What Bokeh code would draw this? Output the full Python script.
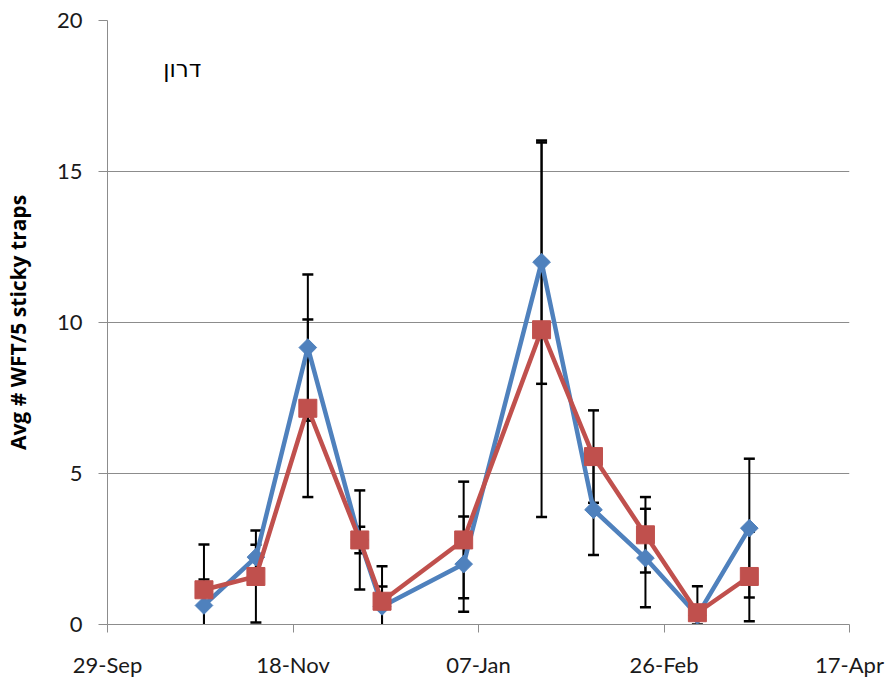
from datetime import datetime
import numpy as np
from bokeh.plotting import figure
from bokeh.models import (Range1d, FixedTicker, DatetimeTickFormatter, Label,
                          ColumnDataSource)
from bokeh.embed import file_html
from bokeh.resources import INLINE

# ---- data ----
dates = ["2012-10-25", "2012-11-08", "2012-11-22", "2012-12-06", "2012-12-12",
         "2013-01-03", "2013-01-24", "2013-02-07", "2013-02-21", "2013-03-07",
         "2013-03-21"]
blue_vals = [0.63, 2.23, 9.17, 2.8, 0.6, 2.0, 12.0, 3.8, 2.2, 0.3, 3.19]
blue_err = [0.86, 0.41, 2.42, 0.44, 0.66, 1.58, 4.03, 1.5, 1.63, 0.3, 2.3]
red_vals = [1.15, 1.59, 7.16, 2.8, 0.77, 2.8, 9.76, 5.56, 2.97, 0.39, 1.59]
red_err = [1.5, 1.52, 2.94, 1.64, 1.16, 1.93, 6.2, 1.53, 1.25, 0.88, 1.48]
tick_dates = ["2012-09-29", "2012-11-18", "2013-01-07", "2013-02-26", "2013-04-17"]
y_ticks = [0, 5, 10, 15, 20]
y_label = "Avg # WFT/5 sticky traps"
panel_label = "דרון"

BLUE = "#4F81BD"
RED = "#C0504D"
GRID = "#8C8C8C"
FONT = "Lato"

xs = [datetime.strptime(d, "%Y-%m-%d") for d in dates]
tx = [datetime.strptime(d, "%Y-%m-%d") for d in tick_dates]
tick_ms = [(t - datetime(1970, 1, 1)).total_seconds() * 1000 for t in tx]

p = figure(width=885, height=680, x_axis_type="datetime",
           output_backend="svg", toolbar_location=None,
           min_border_left=107, min_border_right=36,
           min_border_top=20, min_border_bottom=56)
p.x_range = Range1d(start=tx[0], end=tx[-1])
p.y_range = Range1d(start=0, end=20)

# error bars
for vals, errs in ((blue_vals, blue_err), (red_vals, red_err)):
    v = np.array(vals)
    e = np.array(errs)
    src = ColumnDataSource(dict(x=xs, lo=v - e, hi=v + e))
    p.segment(x0="x", y0="lo", x1="x", y1="hi", source=src,
              line_color="black", line_width=2)
    p.scatter(x="x", y="lo", source=src, marker="dash", size=11,
              line_color="black", line_width=2.5)
    p.scatter(x="x", y="hi", source=src, marker="dash", size=11,
              line_color="black", line_width=2.5)

# series
p.line(xs, blue_vals, line_color=BLUE, line_width=4.5)
p.scatter(xs, blue_vals, marker="square", angle=np.pi / 4, size=12.5,
          fill_color=BLUE, line_color=BLUE)
p.line(xs, red_vals, line_color=RED, line_width=4.5)
p.scatter(xs, red_vals, marker="square", size=18,
          fill_color=RED, line_color=RED)

p.add_layout(Label(x=datetime(2012, 10, 14), y=18.4, text=panel_label,
                   text_font="DejaVu Sans", text_font_size="23px",
                   text_baseline="middle", text_align="left",
                   text_color="black"))

# axes styling
p.outline_line_color = None
p.xgrid.grid_line_color = None
p.ygrid.grid_line_color = GRID
p.ygrid.grid_line_width = 1

p.xaxis.ticker = FixedTicker(ticks=tick_ms)
fmt = "%d-%b"
p.xaxis.formatter = DatetimeTickFormatter(
    milliseconds=fmt, seconds=fmt, minsec=fmt, minutes=fmt, hourmin=fmt,
    hours=fmt, days=fmt, months=fmt, years=fmt)
p.yaxis.ticker = FixedTicker(ticks=y_ticks)
p.yaxis.axis_label = y_label

for ax in (p.xaxis[0], p.yaxis[0]):
    ax.axis_line_color = GRID
    ax.major_tick_line_color = GRID
    ax.minor_tick_line_color = None
    ax.major_tick_in = 0
    ax.major_label_text_font = FONT
    ax.major_label_text_font_size = "22px"
    ax.major_label_text_color = "#1a1a1a"

p.xaxis.major_tick_out = 8
p.xaxis.major_label_standoff = 18
p.yaxis.major_tick_out = 9
p.yaxis.major_label_standoff = 16
p.yaxis.axis_label_text_font = "Open Sans"
p.yaxis.axis_label_text_font_style = "bold"
p.yaxis.axis_label_text_font_size = "21px"
p.yaxis.axis_label_text_color = "black"
p.yaxis.axis_label_standoff = 22

open("out.html", "w").write(file_html(p, INLINE))
